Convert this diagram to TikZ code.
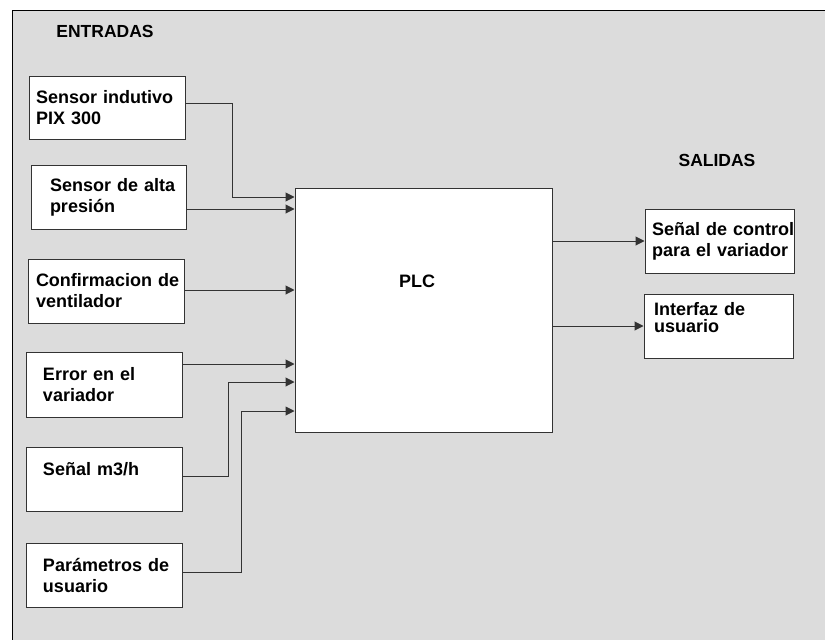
\documentclass[tikz,border=0pt]{standalone}
\usepackage{fontspec}
\setmainfont{Liberation Sans}
\usepackage{tikz}
\usetikzlibrary{arrows.meta}
\definecolor{fondo}{RGB}{220,220,220}
\definecolor{linea}{RGB}{51,51,51}

\begin{document}
\begin{tikzpicture}[x=1pt,y=-1pt,
		>={Triangle[length=9pt,width=9pt]},
		bloque/.style={draw=linea,line width=1pt,fill=white,align=left,inner sep=0pt,
			text width=156pt,minimum height=64pt,
			font=\fontsize{18}{21}\selectfont\bfseries},
		sangria/.style={execute at begin node={\setlength\leftskip{#1}}},
		titulo/.style={font=\fontsize{17.5}{20}\selectfont\bfseries},
		flecha/.style={draw=linea,line width=1pt,->}]

	\useasboundingbox (0,0) rectangle (825,640);

	% fondo
	\draw[fill=fondo,line width=1pt] (12,10) rectangle (840,660);

	\node[titulo] (entradas) at (105,31) {ENTRADAS};
	\node[titulo] (salidas) at (717,160) {SALIDAS};

	% entradas
	\node[bloque,sangria=7pt,minimum height=63pt] (sind) at (107,107.5)
		{Sensor indutivo\\PIX 300};
	\node[bloque,sangria=19pt,text width=155pt] (salta) at (108.5,197)
		{Sensor de alta\\presión};
	\node[bloque,sangria=8pt] (cvent) at (106,291)
		{Confirmacion de\\ventilador};
	\node[bloque,sangria=17pt,minimum height=65pt] (evar) at (104,384.5)
		{Error en el\\variador};
	\node[bloque,sangria=17pt] (sm3) at (104,479)
		{Señal m3/h\\\mbox{}};
	\node[bloque,sangria=17pt] (pusr) at (104,575)
		{Parámetros de\\usuario};

	% PLC
	\node[bloque,text width=257pt,minimum height=244pt] (plc) at (423.5,310) {};
	\node[font=\fontsize{18}{21}\selectfont\bfseries] (plctxt) at (417,281) {PLC};

	% salidas
	\node[bloque,sangria=7pt,text width=149pt] (sctrl) at (719.5,241)
		{\mbox{Señal de control}\\para el variador};
	\node[bloque,sangria=10pt,text width=149pt,
		font=\fontsize{18}{17}\selectfont\bfseries] (iusr) at (718.5,326)
		{Interfaz de\\usuario\\\mbox{}};

	% conexiones
	\draw[flecha] (sind.east |- 0,103) -- (232,103) |- (plc.west |- 0,197);
	\draw[flecha] (salta.east |- 0,209) -- (plc.west |- 0,209);
	\draw[flecha] (cvent.east |- 0,290) -- (plc.west |- 0,290);
	\draw[flecha] (evar.east |- 0,364) -- (plc.west |- 0,364);
	\draw[flecha] (sm3.east |- 0,476) -- (228,476) |- (plc.west |- 0,382);
	\draw[flecha] (pusr.east |- 0,572) -- (241,572) |- (plc.west |- 0,411);

	\draw[flecha] (plc.east |- sctrl.west) -- (sctrl.west);
	\draw[flecha] (plc.east |- iusr.west) -- (iusr.west);
\end{tikzpicture}
\end{document}
